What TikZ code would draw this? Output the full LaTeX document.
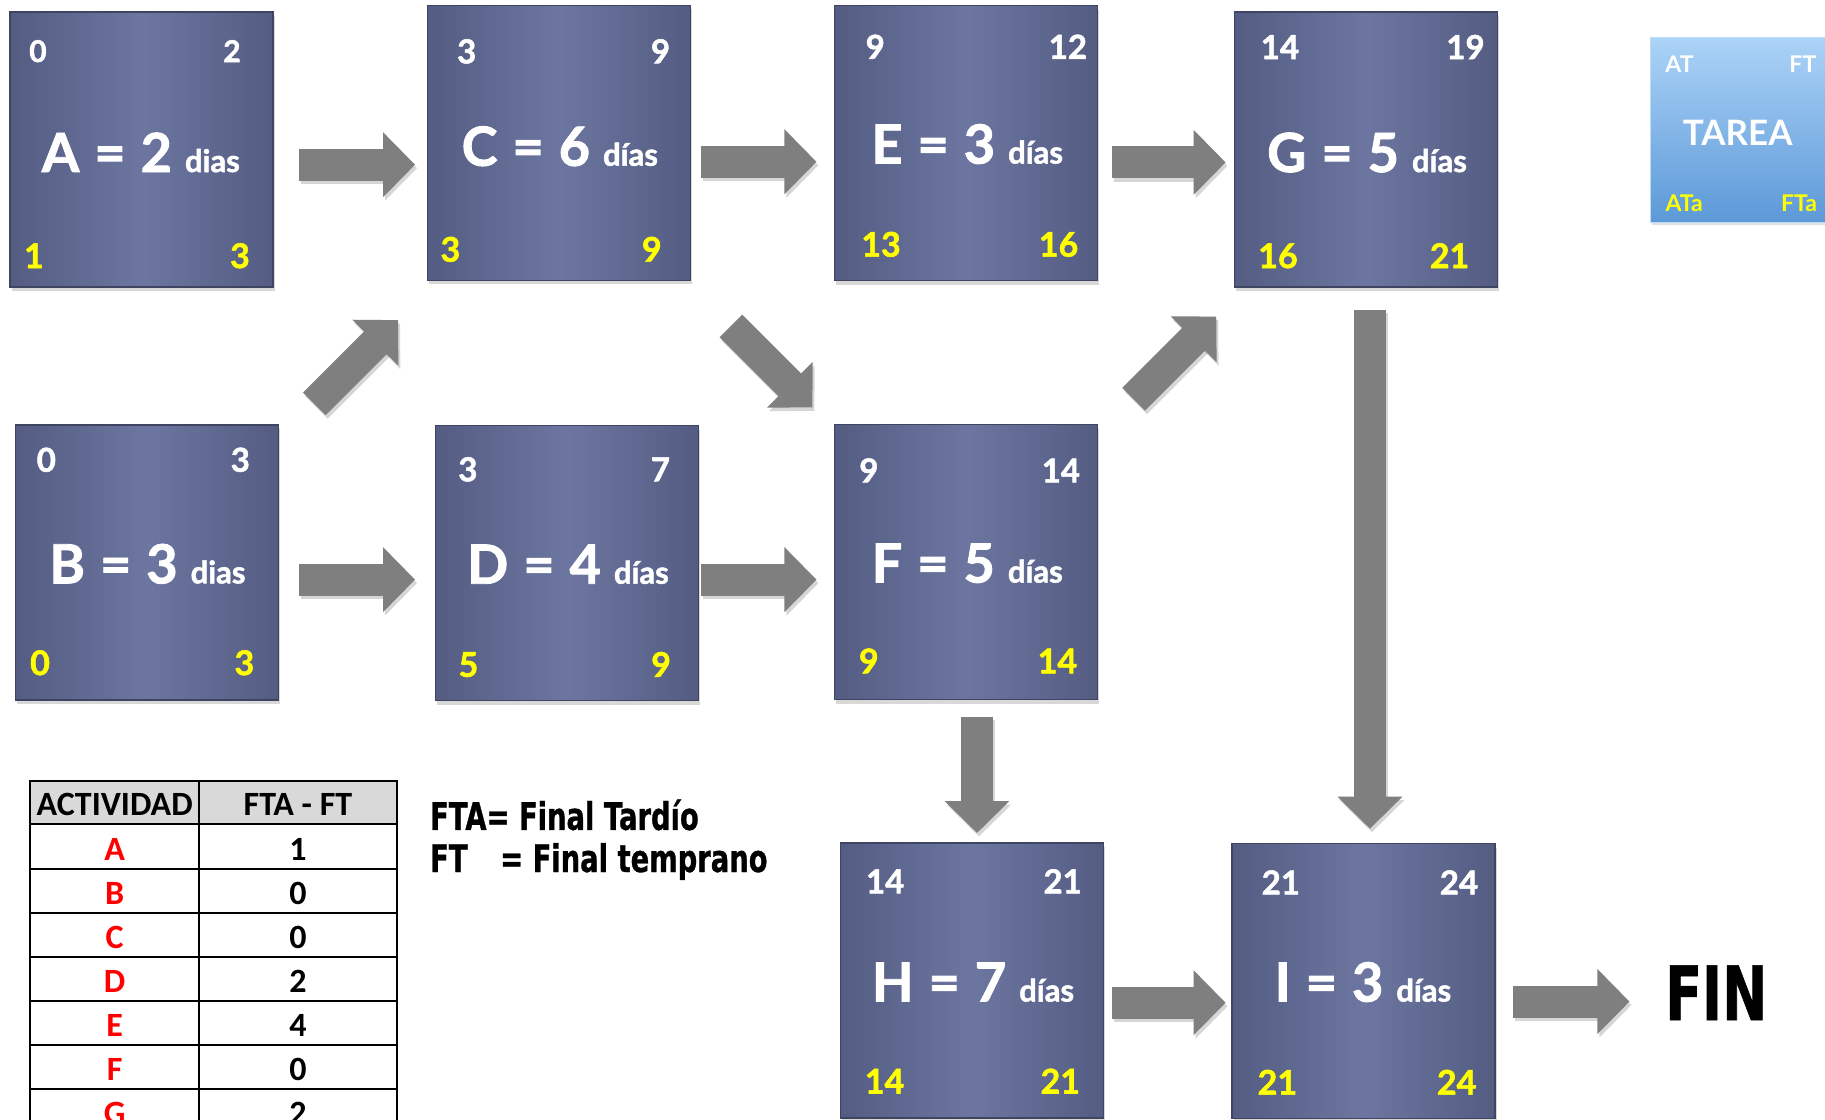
\documentclass[tikz,border=0pt]{standalone}
\usepackage{fontspec}
\setmainfont{Lato}
\newfontfamily\heavyfont[BoldFeatures={FakeBold=1.6}]{Lato}
\newfontfamily\tabfont{Carlito}
\newfontfamily\condfont[FakeStretch=0.72,BoldFeatures={FakeBold=0.8}]{DejaVu Sans}
\usetikzlibrary{arrows.meta,shadows,calc}

\definecolor{boxmid}{RGB}{108,118,160}
\definecolor{boxedge}{RGB}{84,92,130}
\definecolor{arrgray}{RGB}{127,127,127}
\definecolor{hdrgray}{RGB}{217,217,217}
\definecolor{ylw}{RGB}{255,255,0}
\definecolor{tareatop}{RGB}{172,211,247}
\definecolor{tareabot}{RGB}{92,153,216}

\newcommand\lblbig{\fontsize{54pt}{54pt}\selectfont}
\newcommand\lblsmall{\fontsize{31pt}{31pt}\selectfont}
\newcommand\actlabel[3]{{\lblbig #1\hspace{15pt}=\hspace{15pt}#2}\hspace{13pt}{\lblsmall #3}}

\tikzset{
  actbox/.style={rectangle, minimum width=263pt, minimum height=275pt, inner sep=0pt,
    left color=boxedge, right color=boxedge, middle color=boxmid,
    draw=boxedge!75!black, line width=1.2pt,
    drop shadow={shadow xshift=1.5pt, shadow yshift=-4pt, opacity=0.3}},
  tareabox/.style={rectangle, minimum width=179pt, minimum height=185pt, inner sep=0pt,
    top color=tareatop, bottom color=tareabot, draw=tareatop!80!white, line width=1pt,
    drop shadow={shadow xshift=1.5pt, shadow yshift=-3pt, opacity=0.25}},
  wnum/.style={text=white, anchor=base, inner sep=0pt, font=\heavyfont\bfseries\fontsize{33pt}{33pt}\selectfont},
  ynum/.style={text=ylw, anchor=base, inner sep=0pt, font=\heavyfont\bfseries\fontsize{34pt}{34pt}\selectfont},
  lbl/.style={text=white, anchor=base, inner sep=0pt, font=\heavyfont\bfseries},
  blockarr/.style={draw=arrgray, line width=32pt, -{Triangle[width=63pt,length=32pt]}},
  blockshadow/.style={draw=black, opacity=0.16, line width=32pt, -{Triangle[width=63pt,length=32pt]},
    transform canvas={shift={(2pt,-3.5pt)}}},
  tabtxt/.style={anchor=base, inner sep=0pt, font=\tabfont\bfseries\fontsize{34pt}{34pt}\selectfont},
  legtxt/.style={anchor=base west, inner sep=0pt, font=\condfont\bfseries\fontsize{38pt}{38pt}\selectfont},
}

\newcommand\blkarrow[2]{\draw[blockshadow] (#1) -- (#2); \draw[blockarr] (#1) -- (#2);}

\begin{document}
\begin{tikzpicture}[x=1.16390pt, y=-1.16390pt]
\useasboundingbox (0,0) rectangle (1568,962);
\clip (0,0) rectangle (1568,962);
\fill[white] (0,0) rectangle (1568,962);

% ---------- activity boxes ----------
\node[actbox] (A) at (121.6,128.5) {};
\node[actbox] (C) at (480.3,122.8) {};
\node[actbox] (E) at (830,123) {};
\node[actbox] (G) at (1173.5,128.5) {};
\node[actbox] (B) at (126,483.3) {};
\node[actbox] (D) at (487,484) {};
\node[actbox] (F) at (830,483) {};
\node[actbox] (H) at (835,842.5) {};
\node[actbox] (I) at (1171.5,843) {};

% A
\node[wnum, font=\heavyfont\bfseries\fontsize{30pt}{30pt}\selectfont] (Atl) at (32.6,53.3) {0};
\node[wnum, font=\heavyfont\bfseries\fontsize{30pt}{30pt}\selectfont] (Atr) at (199.3,53.3) {2};
\node[ynum] (Abl) at (29.2,230.3) {1};
\node[ynum] (Abr) at (206.2,230.3) {3};
\node[lbl] (Alb) at (121,147.8) {\actlabel{A}{2}{dias}};
% C
\node[wnum] (Ctl) at (401,54.4) {3};
\node[wnum] (Ctr) at (567.5,54.4) {9};
\node[ynum] (Cbl) at (387,224.8) {3};
\node[ynum] (Cbr) at (560,224.8) {9};
\node[lbl] (Clb) at (481,142.4) {\actlabel{C}{6}{días}};
% E
\node[wnum] (Etl) at (752,50.5) {9};
\node[wnum] (Etr) at (917.5,50.5) {12};
\node[ynum] (Ebl) at (757,220.5) {13};
\node[ynum] (Ebr) at (909.5,220.5) {16};
\node[lbl] (Elb) at (831,140.5) {\actlabel{E}{3}{días}};
% G
\node[wnum] (Gtl) at (1099.7,50.7) {14};
\node[wnum] (Gtr) at (1259.1,50.7) {19};
\node[ynum] (Gbl) at (1098,230.3) {16};
\node[ynum] (Gbr) at (1245.4,230.3) {21};
\node[lbl] (Glb) at (1174.5,147.8) {\actlabel{G}{5}{días}};
% B
\node[wnum] (Btl) at (39.8,405.3) {0};
\node[wnum] (Btr) at (206.5,405.3) {3};
\node[ynum] (Bbl) at (34.4,580) {0};
\node[ynum] (Bbr) at (210,580) {3};
\node[lbl] (Blb) at (126.7,501.2) {\actlabel{B}{3}{dias}};
% D
\node[wnum] (Dtl) at (402,413.5) {3};
\node[wnum] (Dtr) at (567.5,413.5) {7};
\node[ynum] (Dbl) at (402.5,581.5) {5};
\node[ynum] (Dbr) at (568,581.5) {9};
\node[lbl] (Dlb) at (488,501.5) {\actlabel{D}{4}{días}};
% F
\node[wnum] (Ftl) at (746.5,414.5) {9};
\node[wnum] (Ftr) at (911.5,414.5) {14};
\node[ynum] (Fbl) at (746.5,578.5) {9};
\node[ynum] (Fbr) at (908.5,578.5) {14};
\node[lbl] (Flb) at (831,500.5) {\actlabel{F}{5}{días}};
% H
\node[wnum] (Htl) at (760.5,767.5) {14};
\node[wnum] (Htr) at (913,767.5) {21};
\node[ynum] (Hbl) at (760,939.5) {14};
\node[ynum] (Hbr) at (911,939.5) {21};
\node[lbl] (Hlb) at (836,860.5) {\actlabel{H}{7}{días}};
% I
\node[wnum] (Itl) at (1100.5,768.5) {21};
\node[wnum] (Itr) at (1253.5,768.5) {24};
\node[ynum] (Ibl) at (1097.5,940.5) {21};
\node[ynum] (Ibr) at (1251.5,940.5) {24};
\node[lbl] (Ilb) at (1171,860.5) {\actlabel{I}{3}{días}};

% ---------- legend box TAREA ----------
\node[tareabox] (tarea) at (1495,111.5) {};
\node[wnum, font=\bfseries\fontsize{23pt}{23pt}\selectfont] (tAT) at (1443,61.9) {AT};
\node[wnum, font=\bfseries\fontsize{23pt}{23pt}\selectfont] (tFT) at (1549,61.9) {FT};
\node[wnum, font=\bfseries\fontsize{35pt}{35pt}\selectfont] (tTA) at (1493,125.4) {TAREA};
\node[ynum, font=\bfseries\fontsize{23pt}{23pt}\selectfont] (tATa) at (1447,182.1) {ATa};
\node[ynum, font=\bfseries\fontsize{23pt}{23pt}\selectfont] (tFTa) at (1545.7,182.1) {FTa};

% ---------- block arrows ----------
\coordinate (ac1) at (257,141.5);   \coordinate (ac2) at (356.6,141.5);
\coordinate (ce1) at (602,139);     \coordinate (ce2) at (701.5,139);
\coordinate (eg1) at (955,139.5);   \coordinate (eg2) at (1053,139.5);
\coordinate (bd1) at (257,498);     \coordinate (bd2) at (356.6,498);
\coordinate (df1) at (602,498);     \coordinate (df2) at (701.5,498);
\coordinate (hi1) at (955,861.5);   \coordinate (hi2) at (1053,861.5);
\coordinate (if1) at (1300,860.5);  \coordinate (if2) at (1400,860.5);
\coordinate (bc1) at (270,347);     \coordinate (bc2) at (342,275);
\coordinate (cf1) at (628,280);     \coordinate (cf2) at (698,350);
\coordinate (fg1) at (974,343);     \coordinate (fg2) at (1045,272);
\coordinate (fh1) at (839.4,616);   \coordinate (fh2) at (839.4,715.7);
\coordinate (gi1) at (1177,266);    \coordinate (gi2) at (1177,712);

\blkarrow{ac1}{ac2}
\blkarrow{ce1}{ce2}
\blkarrow{eg1}{eg2}
\blkarrow{bd1}{bd2}
\blkarrow{df1}{df2}
\blkarrow{hi1}{hi2}
\blkarrow{if1}{if2}
\blkarrow{bc1}{bc2}
\blkarrow{cf1}{cf2}
\blkarrow{fg1}{fg2}
\blkarrow{fh1}{fh2}
\blkarrow{gi1}{gi2}

\node[anchor=base west, inner sep=0pt, font=\condfont\bfseries\fontsize{75pt}{75pt}\selectfont] (fin) at (1430.5,876.4) {FIN};

% ---------- table ----------
\fill[hdrgray] (25.8,671) rectangle (341,708);
\draw[line width=1.6pt] (25.8,671) rectangle (341,975);
\draw[line width=1.6pt] (171,671) -- (171,975);
\foreach \yy in {708,746.6,784.4,822.2,860,897.8,935.6} {
  \draw[line width=1.6pt] (25.8,\yy) -- (341,\yy);
}
\node[tabtxt] (th1) at (98.5,701) {ACTIVIDAD};
\node[tabtxt] (th2) at (256,701) {FTA - FT};
\node[tabtxt, text=red] (r1a) at (98.5,739) {A};   \node[tabtxt] (r1b) at (256,739) {1};
\node[tabtxt, text=red] (r2a) at (98.5,776.8) {B}; \node[tabtxt] (r2b) at (256,776.8) {0};
\node[tabtxt, text=red] (r3a) at (98.5,814.6) {C}; \node[tabtxt] (r3b) at (256,814.6) {0};
\node[tabtxt, text=red] (r4a) at (98.5,852.4) {D}; \node[tabtxt] (r4b) at (256,852.4) {2};
\node[tabtxt, text=red] (r5a) at (98.5,890.2) {E}; \node[tabtxt] (r5b) at (256,890.2) {4};
\node[tabtxt, text=red] (r6a) at (98.5,928) {F};   \node[tabtxt] (r6b) at (256,928) {0};
\node[tabtxt, text=red] (r7a) at (98.5,965.8) {G}; \node[tabtxt] (r7b) at (256,965.8) {2};

% ---------- legend text ----------
\node[legtxt] (leg1) at (369.4,713) {FTA= Final Tardío};
\node[legtxt] (leg2a) at (369.4,749.2) {FT};
\node[legtxt] (leg2b) at (429.6,749.2) {= Final temprano};
\end{tikzpicture}
\end{document}
